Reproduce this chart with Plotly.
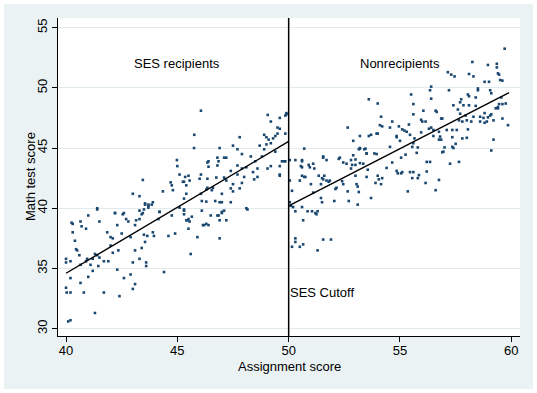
import plotly.graph_objects as go

# ---- data ----
recip_pts = [
(40.0,33.4),(40.03,33.0),(40.1,30.6),(40.2,30.7),(40.2,33.0),(40.0,35.8),(40.0,35.5),(40.2,35.6),(40.2,34.2),(40.25,38.8),
(40.3,38.7),(40.3,38.0),(40.4,37.3),(40.45,36.6),(40.5,36.5),(40.6,36.1),(40.65,35.3),(40.65,33.8),(40.7,38.5),(40.65,38.9),
(40.9,38.3),(40.8,33.0),(40.9,35.6),(40.95,35.8),(41.0,34.3),(41.0,39.4),(41.1,35.3),(41.2,35.8),(41.2,34.8),(41.3,31.3),
(41.3,36.2),(41.4,39.9),(41.4,36.1),(41.5,38.9),(41.5,35.9),(41.45,35.2),(41.7,33.0),(41.7,35.6),(41.85,38.0),(41.9,35.6),
(42.0,36.9),(42.0,37.6),(42.1,36.3),(42.1,37.5),(42.2,39.6),(42.3,34.9),(42.3,38.6),(42.4,32.7),(42.35,36.5),(42.5,37.9),
(42.55,39.5),(42.6,34.2),(42.7,39.1),(42.8,38.9),(42.9,34.5),(42.9,37.6),(43.0,35.5),(43.0,33.3),(43.1,36.5),(43.1,33.7),
(43.1,38.6),(43.15,39.0),(43.3,39.1),(43.3,35.8),(43.4,36.7),(43.5,37.8),(43.5,39.9),(43.55,37.2),(43.55,40.3),(43.6,35.5),
(43.6,35.2),(43.7,40.2),(43.65,37.7),(43.9,38.0),(43.95,37.7),(44.15,39.1),(44.2,39.7),(44.4,34.7),(44.6,37.7),(44.75,39.4),
(44.9,37.9),(45.3,39.9),(45.3,39.5),(45.4,39.0),(45.5,39.1),(45.6,36.2),(45.65,39.3),(45.9,37.6),(46.1,39.8),(46.2,38.6),
(46.4,38.6),(46.5,39.4),(46.9,37.5),(46.9,39.0),(46.85,39.4),(47.0,39.7),(47.2,39.0),(48.15,39.9),(45.45,39.0),(45.55,38.9),
(45.5,38.3),(46.15,38.6),(46.3,38.7),(46.8,39.4),
(46.06,48.1),(45.76,46.1),(45.75,45.0),(46.9,45.0),(47.8,45.9),(47.5,45.2),(47.7,44.9),(47.9,44.5),(48.3,44.3),(48.7,45.2),
(48.9,46.1),(49.0,45.3),(49.0,45.9),(49.06,47.75),(49.2,47.2),(49.1,45.7),(49.3,45.8),(49.2,45.4),(49.5,46.7),(49.6,47.5),
(49.6,46.6),(49.5,46.2),(49.4,46.0),(49.85,47.7),(49.9,47.9),(49.85,46.2),(48.9,44.9),(49.4,44.7),(49.7,43.9),(49.8,43.9),
(49.6,43.5),(49.6,42.7),(49.2,43.5),(49.05,43.3),(48.6,43.3),(48.8,44.3),(48.5,43.9),(48.4,43.0),(48.45,42.4),(48.1,43.4),
(48.0,42.6),(47.8,41.65),(47.9,43.3),(47.7,43.55),(47.7,42.8),(47.4,43.1),(47.5,42.0),(47.4,41.65),(47.1,44.2),(47.2,44.2),
(46.85,43.9),(46.8,43.55),(46.4,43.9),(46.35,43.8),(46.4,43.45),(46.35,42.45),(46.75,42.55),(47.1,42.55),(47.2,42.3),(47.5,41.4),
(47.0,41.2),(46.55,41.5),(46.06,42.8),(46.0,42.45),(45.5,42.7),(45.35,42.6),(45.3,42.2),(45.25,42.2),(45.4,41.9),(45.55,42.3),
(45.1,42.8),(44.98,44.0),(45.0,43.5),(45.4,41.2),(45.3,40.8),(46.06,41.2),(46.3,41.55),(46.35,41.7),(46.6,41.7),(46.1,40.6),
(46.3,40.55),(46.7,40.6),(46.9,40.5),(47.0,40.5),(47.4,40.5),(47.1,39.8),(48.1,40.0),(45.1,40.05),(45.3,39.8),(47.0,39.6),
(43.45,42.35),(43.0,41.2),(43.3,41.0),(44.7,42.15),(44.75,41.9),(44.8,41.5),(44.35,41.4),(43.55,40.4),(43.7,40.3),(43.85,40.3),
(43.9,40.5),(43.7,40.05),(43.3,39.8),(43.45,39.6),(44.2,39.7),(41.4,40.0),(42.2,39.6),(42.6,39.6),(47.9,42.1),(48.6,42.6),
(49.9,47.8),(49.85,43.9),(49.6,42.8),(46.8,44.2),(43.4,39.5),
]

nonrecip_pts = [
(50.05,44.0),(50.05,42.3),(50.05,40.5),(50.15,41.45),(50.1,40.2),(50.2,40.1),(50.3,39.75),(50.3,44.0),(50.5,42.3),(50.6,43.9),
(50.6,43.4),(50.6,40.1),(50.65,39.0),(50.7,42.6),(50.75,42.6),(50.85,39.75),(50.9,43.6),(50.95,43.4),(51.0,42.0),(51.05,39.75),
(51.1,41.3),(51.2,39.6),(51.25,39.5),(51.3,39.75),(51.35,42.7),(51.45,42.0),(51.5,42.5),(51.55,42.4),(51.7,42.3),(51.8,42.2),
(51.85,42.3),(51.45,40.85),(51.5,40.5),(51.55,44.2),(51.7,44.0),(50.3,37.5),(50.3,37.2),(50.5,36.8),(50.65,37.0),(51.3,36.5),
(50.15,36.8),(51.55,37.4),(51.9,37.4),(52.1,41.6),(52.15,41.7),(52.05,40.6),(52.25,44.1),(52.45,43.8),(52.4,42.25),(52.45,42.0),
(52.6,43.7),(52.65,41.4),(52.7,40.6),(52.8,44.0),(52.85,43.6),(52.9,44.4),(53.0,43.6),(53.0,42.7),(53.05,42.0),(53.1,41.8),
(53.15,41.35),(53.1,40.3),(53.2,44.95),(53.2,43.75),(53.35,43.7),(53.4,44.9),(53.5,42.6),(53.55,43.2),(53.5,44.55),(53.7,40.85),
(53.85,44.55),(53.95,44.5),(53.9,42.1),(54.0,42.7),(54.05,42.4),(54.15,42.0),(54.2,42.5),(54.4,43.35),(54.65,43.8),(54.85,43.1),
(54.9,42.9),(55.05,42.9),
(53.6,49.05),(54.0,48.7),(54.15,47.6),(54.1,46.9),(54.2,46.8),(54.65,47.2),(52.65,46.7),(53.95,46.2),(53.7,46.1),(53.6,46.0),
(53.2,46.0),(52.9,45.6),(54.95,46.8),(54.85,45.9),(55.0,45.6),(54.55,45.1),(50.7,44.95),(53.15,44.9),(53.45,44.95),
(59.7,53.25),(58.25,52.15),(58.95,51.9),(59.35,52.0),(59.35,51.7),(59.4,51.2),(59.45,51.1),(59.5,50.65),(59.6,50.6),(57.15,51.3),
(57.3,51.1),(57.45,50.95),(58.1,51.15),(58.3,50.95),(58.8,50.5),(59.0,50.5),(56.4,50.1),(56.35,49.8),(57.2,49.8),(58.5,49.8),
(59.05,49.8),(59.1,49.55),(55.5,49.45),(56.4,49.1),(58.05,49.45),(58.4,49.2),(57.75,49.05),(57.4,48.55),(57.85,48.55),(57.7,48.8),
(58.1,48.55),(58.4,48.5),(59.55,49.2),(59.45,48.65),(59.6,48.65),(59.75,48.7),(59.4,48.3),(59.6,47.45),(59.85,46.9),(55.6,48.65),
(56.05,48.1),(56.6,48.1),(57.6,48.2),(57.7,47.85),(57.95,47.7),(58.3,47.6),(58.6,47.6),(58.8,47.9),(59.05,47.7),(59.2,47.3),
(58.95,47.55),(58.2,47.2),(58.0,47.3),(57.65,47.3),(57.8,47.2),(58.8,47.1),(56.85,47.45),(55.95,47.35),(56.15,47.2),(55.4,46.95),
(55.1,46.55),(55.3,46.35),(55.95,46.3),(56.4,46.7),(56.5,46.5),(56.75,46.35),(56.8,45.95),(56.75,45.7),(57.1,46.5),(57.35,46.5),
(57.55,46.5),(58.05,46.55),(57.8,45.8),(58.0,45.85),(59.2,45.7),(55.6,45.4),(55.55,45.1),(57.0,45.05),(57.35,45.1),(57.4,45.0),
(55.05,44.2),(55.25,44.45),(55.75,44.6),(56.9,44.65),(56.95,44.7),(59.1,44.8),(56.2,43.85),(56.35,43.85),(57.25,43.7),(57.65,43.85),
(55.45,43.0),(55.6,43.0),(55.1,43.0),(55.85,42.75),(55.8,42.5),(55.55,42.5),(56.2,43.05),(56.15,42.1),(56.75,42.35),(55.35,41.4),
(56.6,41.5),
(50.6,44.0),(50.55,43.5),(50.6,42.7),(51.1,43.7),(51.15,43.3),(51.6,42.7),(51.55,44.3),(52.3,44.2),(52.8,43.3),(53.0,44.05),
(53.2,45.0),(53.5,44.55),(54.0,46.2),(54.55,46.7),(54.85,46.0),(55.2,46.45),(55.45,46.1),(55.6,47.8),(55.65,45.8),(55.8,45.05),
(56.0,47.2),(56.3,46.6),(56.5,46.0),(56.65,48.0),(56.85,45.7),(56.9,47.45),(57.35,45.9),(57.5,45.35),(58.6,47.2),(58.75,47.5),
(58.9,47.2),(59.1,47.8),(59.3,48.3),(59.4,48.4),(58.5,49.95),(58.1,49.3),
]

fit_recip_x = [40.0, 50.0]
fit_recip_y = [34.6, 45.55]
fit_non_x = [50.0, 59.9]
fit_non_y = [40.2, 49.6]
cutoff = 50

x_ticks = [40, 45, 50, 55, 60]
y_ticks = [30, 35, 40, 45, 50, 55]
x_title = "Assignment score"
y_title = "Math test score"
labels = [("SES recipients", 45, 52), ("Nonrecipients", 55, 52)]
cutoff_label = ("SES Cutoff", 50, 33)

NAVY = "#1a476f"
FONT = "Liberation Sans, Arial, sans-serif"

rx, ry = zip(*recip_pts)
nx, ny = zip(*nonrecip_pts)

fig = go.Figure()
marker = dict(color=NAVY, size=2.6, symbol="square", line=dict(width=0))
fig.add_trace(go.Scatter(x=rx, y=ry, mode="markers", marker=marker, showlegend=False))
fig.add_trace(go.Scatter(x=nx, y=ny, mode="markers", marker=marker, showlegend=False))
fig.add_trace(go.Scatter(x=fit_recip_x, y=fit_recip_y, mode="lines",
                         line=dict(color="black", width=1.4), showlegend=False))
fig.add_trace(go.Scatter(x=fit_non_x, y=fit_non_y, mode="lines",
                         line=dict(color="black", width=1.4), showlegend=False))

W, H = 537, 393
ml, mr, mt, mb = 58, 17, 18, 57
pw, ph = W - ml - mr, H - mt - mb
# outer light-blue frame (with thin white border) and white plot region
fig.add_shape(type="rect", xref="paper", yref="paper", layer="below",
              x0=-(ml - 4) / pw, x1=1 + (mr - 4) / pw,
              y0=-(mb - 4) / ph, y1=1 + (mt - 4) / ph,
              fillcolor="#EAF2F3", line=dict(width=0))
fig.add_shape(type="rect", xref="paper", yref="paper", layer="below",
              x0=0, x1=1, y0=0, y1=1, fillcolor="white", line=dict(width=0))
fig.add_shape(type="line", xref="x", yref="paper", x0=cutoff, x1=cutoff, y0=0, y1=1,
              line=dict(color="black", width=1.5))

for txt, x, y in labels:
    fig.add_annotation(x=x, y=y, text=txt, showarrow=False, xanchor="center",
                       font=dict(size=13, color="black", family=FONT))
fig.add_annotation(x=cutoff_label[1], y=cutoff_label[2], text=cutoff_label[0],
                   showarrow=False, xanchor="left", xshift=-1,
                   font=dict(size=13, color="black", family=FONT))

# axis titles as annotations for exact placement
fig.add_annotation(xref="paper", yref="paper", x=0.5, y=0, yanchor="middle",
                   yshift=-30, text=x_title, showarrow=False,
                   font=dict(size=13, color="black", family=FONT))
fig.add_annotation(xref="paper", yref="paper", x=0, y=0.5, xanchor="center",
                   xshift=-28, textangle=-90, text=y_title, showarrow=False,
                   font=dict(size=13, color="black", family=FONT))

fig.update_layout(
    width=W, height=H,
    margin=dict(l=ml, r=mr, t=mt, b=mb, autoexpand=False),
    paper_bgcolor="white", plot_bgcolor="white",
    font=dict(family=FONT, size=13, color="black"),
    xaxis=dict(range=[39.64, 60.39], tickvals=x_ticks, showgrid=False, zeroline=False,
               showline=True, linecolor="black", linewidth=1.3, automargin=False,
               ticks="outside", ticklen=5, tickcolor="black", ticklabelstandoff=-3),
    yaxis=dict(range=[29.39, 55.8], tickvals=y_ticks, showgrid=True, gridcolor="#E1EAEC",
               gridwidth=1, zeroline=False, tickangle=-90, automargin=False,
               showline=True, linecolor="black", linewidth=1.3,
               ticks="outside", ticklen=5, tickcolor="black"),
)

fig.write_html("out.html", config={"displayModeBar": False},
               post_script="document.body.style.margin='0';document.body.style.overflow='hidden';")
